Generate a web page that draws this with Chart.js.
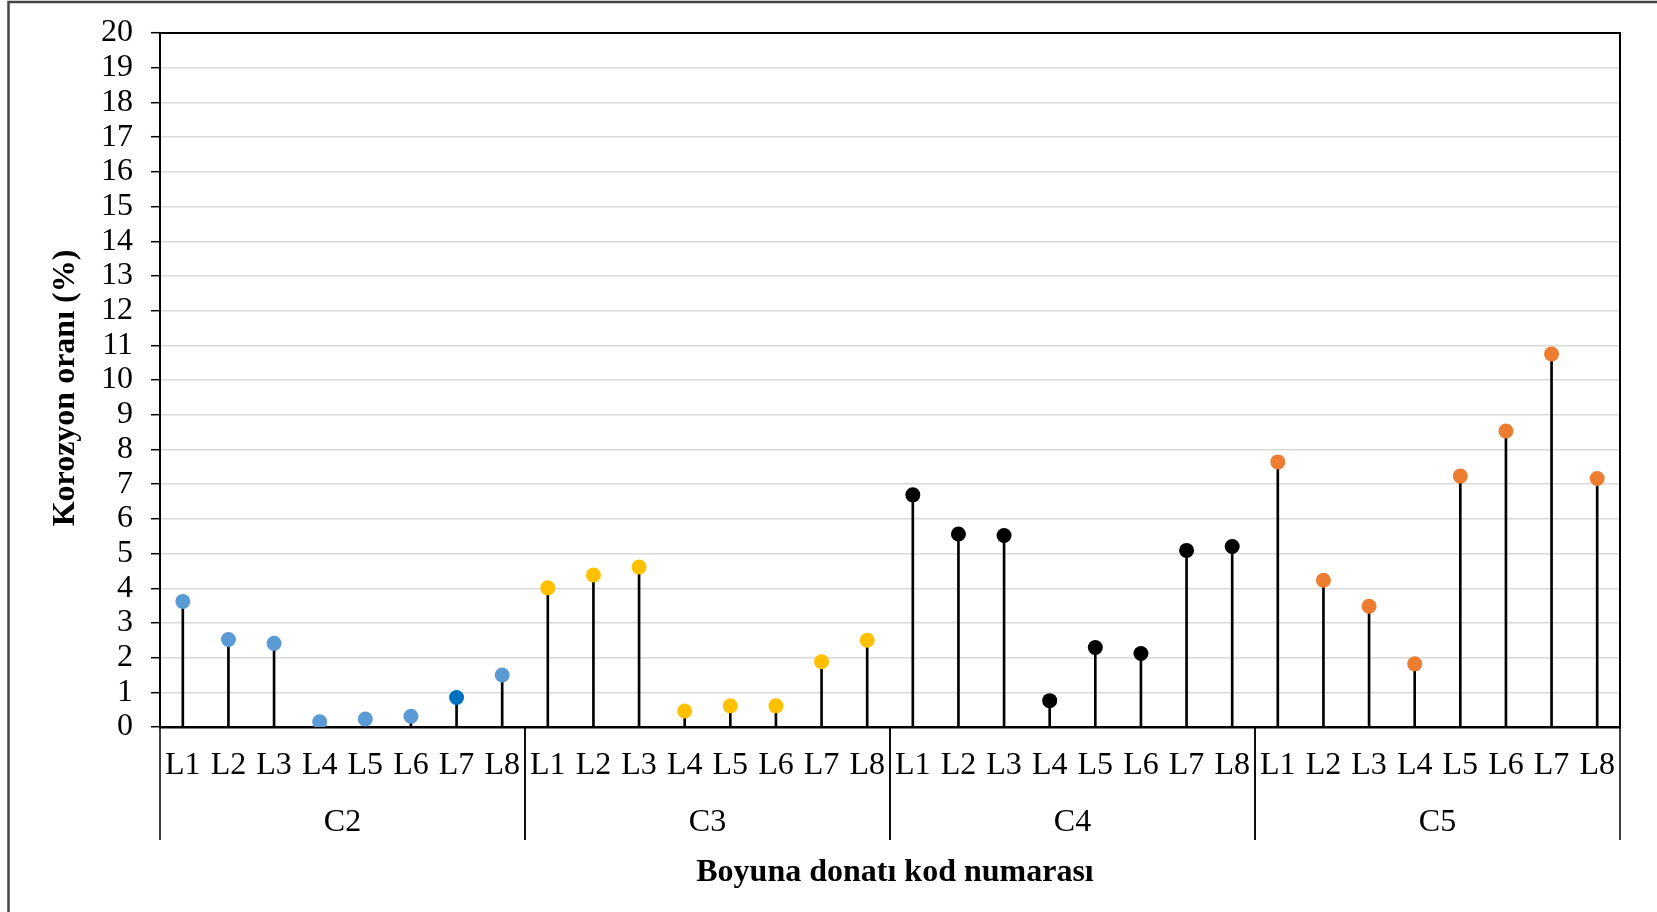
<!DOCTYPE html>
<html>
<head>
<meta charset="utf-8">
<script src="https://cdn.jsdelivr.net/npm/chart.js@4"></script>
<style>
html,body{margin:0;padding:0;background:#fff;overflow:hidden;}
canvas{display:block;}
</style>
</head>
<body>
<canvas id="chart" width="1657" height="912"></canvas>
<script>
/* data */
const groups = ['C2','C3','C4','C5'];
const bars = ['L1','L2','L3','L4','L5','L6','L7','L8'];
const c2Values = [3.62, 2.52, 2.41, 0.15, 0.23, 0.31, 0.85, 1.50];
const c3Values = [4.01, 4.38, 4.61, 0.46, 0.61, 0.61, 1.88, 2.50];
const c4Values = [6.69, 5.56, 5.52, 0.76, 2.29, 2.12, 5.09, 5.20];
const c5Values = [7.64, 4.23, 3.48, 1.82, 7.23, 8.53, 10.75, 7.16];
const groupColors = ['#5B9BD5','#FFC000','#000000','#ED7D31'];
const yMin = 0, yMax = 20, yStep = 1;

const yTitle = 'Korozyon oranı (%)';
const xTitle = 'Boyuna donatı kod numarası';

/* flatten groups into one category list */
const allValues = [c2Values, c3Values, c4Values, c5Values];
let labels = [], values = [], colors = [];
allValues.forEach((arr,g)=>{
  arr.forEach((v,i)=>{
    labels.push(bars[i]);
    values.push(v);
    colors.push(groupColors[g]);
  });
});
// C2 L7 point is a darker blue in the original
colors[6] = '#0070C0';

const FONT = "'Liberation Serif', 'Times New Roman', serif";

/* background + outer frame */
const framePlugin = {
  id:'frame',
  beforeDraw(chart){
    const c = chart.ctx;
    c.save();
    c.fillStyle = '#fff';
    c.fillRect(0,0,chart.width,chart.height);
    c.strokeStyle = '#444';
    c.lineWidth = 2.5;
    c.strokeRect(8.5, 2, chart.width + 40, chart.height + 40);
    c.restore();
  },
  afterDatasetsDraw(chart){
    const c = chart.ctx, a = chart.chartArea;
    c.save();
    c.strokeStyle = '#000';
    c.lineWidth = 2;
    c.beginPath();
    c.moveTo(a.left, a.top);
    c.lineTo(a.right, a.top);
    c.lineTo(a.right, a.bottom);
    c.stroke();
    c.restore();
  }
};

/* group dividers, group names and the two axis titles */
const groupAxis = {
  id:'groupAxis',
  afterDraw(chart){
    const c = chart.ctx, x = chart.scales.x, a = chart.chartArea;
    const step = x.getPixelForValue(1) - x.getPixelForValue(0);
    c.save();
    c.strokeStyle = '#000';
    c.lineWidth = 1.5;
    c.fillStyle = '#000';
    c.font = '32px ' + FONT;
    c.textAlign = 'center';
    c.textBaseline = 'middle';
    groups.forEach((g,i)=>{
      const start = x.getPixelForValue(i*bars.length) - step/2;
      const end = x.getPixelForValue(i*bars.length + bars.length - 1) + step/2;
      c.beginPath();
      c.moveTo(start, a.bottom);
      c.lineTo(start, a.bottom + 113);
      c.moveTo(end, a.bottom);
      c.lineTo(end, a.bottom + 113);
      c.stroke();
      c.fillText(g, (start+end)/2, a.bottom + 96);
    });

    // axis titles (placed like the original, slightly off the plot centre)
    c.font = 'bold 32px ' + FONT;
    c.fillText(xTitle, (a.left + a.right)/2 + 5, a.bottom + 146);
    c.translate(66, (a.top + a.bottom)/2 + 8);
    c.rotate(-Math.PI/2);
    c.fillText(yTitle, 0, 0);
    c.restore();
  }
};

new Chart(document.getElementById('chart'), {
  type:'bar',
  data:{
    labels:labels,
    datasets:[
      {
        type:'line',
        data:values,
        showLine:false,
        pointRadius:7.5,
        pointBorderWidth:0,
        pointBackgroundColor:colors,
        order:0
      },
      {
        type:'bar',
        data:values,
        backgroundColor:'#000',
        barThickness:2,
        order:1
      }
    ]
  },
  options:{
    responsive:false,
    animation:false,
    events:[],
    layout:{autoPadding:false, padding:{top:33, right:37, left:0, bottom:0}},
    plugins:{legend:{display:false}, tooltip:{enabled:false}},
    scales:{
      x:{
        grid:{display:false, drawTicks:false},
        border:{color:'#000', width:2.5},
        ticks:{color:'#000', padding:19, maxRotation:0, autoSkip:false, font:{family:FONT, size:32}},
        afterFit(s){ s.height = 185; s.paddingLeft = 0; s.paddingRight = 0; }
      },
      y:{
        min:yMin, max:yMax,
        grid:{color:'#D9D9D9', lineWidth:1.4, tickLength:9, tickColor:'#000', tickWidth:1.5},
        border:{color:'#000', width:2},
        ticks:{stepSize:yStep, autoSkip:false, color:'#000', padding:18, font:{family:FONT, size:32}},
        afterFit(s){ s.width = 160; s.paddingTop = 0; s.paddingBottom = 0; }
      }
    }
  },
  plugins:[framePlugin, groupAxis]
});
</script>
</body>
</html>
